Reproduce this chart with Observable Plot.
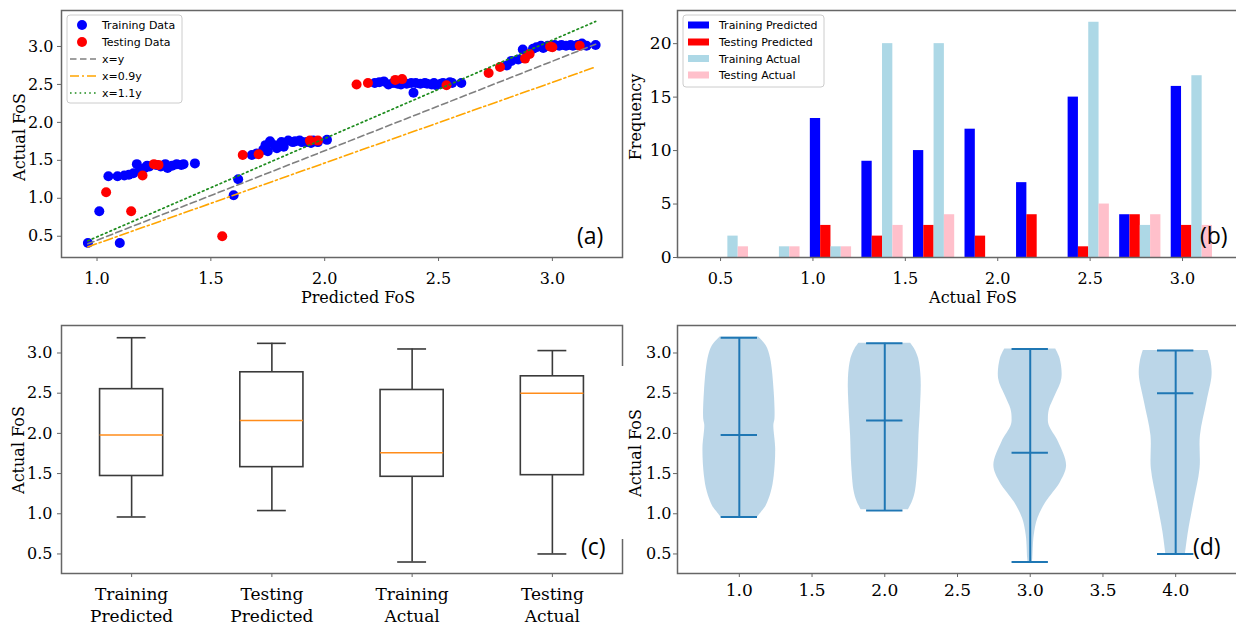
<!DOCTYPE html>
<html><head><meta charset="utf-8">
<script src="https://cdn.jsdelivr.net/npm/d3@7"></script>
<script src="https://cdn.jsdelivr.net/npm/@observablehq/plot@0.6"></script>
<style>
html,body{margin:0;padding:0;background:#fff;}
#wrap{position:relative;width:1236px;height:625px;overflow:hidden;background:#fff;}
</style></head><body><div id="wrap"></div>
<script>
// ---------- (a) scatter data ----------
const trainX = [0.96,1.10,1.01,1.60,1.62,
  1.05,1.09,1.12,1.14,1.16,1.175,1.19,1.21,1.22,1.23,
  1.26,1.28,1.30,1.31,1.33,1.35,1.37,1.38,1.43,
  1.68,1.70,1.73,1.74,1.75,1.76,1.78,1.79,
  1.81,1.82,1.84,1.86,1.87,1.89,1.90,1.92,1.94,1.95,1.97,2.01,
  2.22,2.24,2.26,2.28,2.30,2.32,2.335,
  2.36,2.38,2.39,2.40,2.42,2.44,2.45,2.47,2.48,2.49,2.51,2.52,2.55,2.56,2.60,
  2.80,2.82,2.85,2.87,
  2.915,2.93,2.95,2.96,2.98,3.00,3.01,3.03,3.04,3.06,3.08,3.09,3.11,3.13,3.15,3.19];
const trainY = [0.41,0.41,0.83,1.04,1.25,
  1.29,1.29,1.30,1.31,1.33,1.45,1.38,1.40,1.43,1.42,
  1.44,1.42,1.45,1.40,1.43,1.45,1.44,1.45,1.46,
  1.57,1.59,1.64,1.70,1.62,1.75,1.70,1.66,
  1.74,1.68,1.76,1.74,1.75,1.76,1.74,1.74,1.73,1.76,1.74,1.77,
  2.52,2.53,2.54,2.50,2.52,2.51,2.50,
  2.51,2.52,2.39,2.52,2.51,2.52,2.51,2.50,2.52,2.49,2.51,2.52,2.53,2.52,2.52,
  2.75,2.81,2.83,2.96,
  2.97,2.99,3.01,2.98,3.01,3.00,3.02,3.01,3.02,3.01,3.02,3.01,3.02,3.04,3.01,3.02];
const testX = [1.04,1.15,1.20,1.25,1.27,1.55,1.64,1.71,1.935,1.97,2.14,2.19,2.31,2.34,2.535,2.72,2.77,2.88,2.90,2.99,3.00,3.12];
const testY = [1.08,0.83,1.30,1.45,1.44,0.50,1.57,1.58,1.76,1.76,2.50,2.52,2.56,2.57,2.49,2.65,2.73,2.84,2.90,3.00,2.99,3.01];
// reference lines (endpoints)
const refX = [0.96, 3.19];
const refY_xy = [0.40, 3.03];
const refY_09 = [0.36, 2.73];
const refY_11 = [0.44, 3.33];
const ticksA_x = [1.0,1.5,2.0,2.5,3.0];
const ticksFoS = [0.5,1.0,1.5,2.0,2.5,3.0];

// ---------- (b) histogram data ----------
const binEdges = [0.40,0.679,0.958,1.237,1.516,1.795,2.074,2.353,2.632,2.911,3.19];
const histTrainPred = [0,0,13,9,10,12,7,15,4,16];
const histTestPred  = [0,0,3,2,3,2,4,1,4,3];
const histTrainAct  = [2,1,1,20,20,0,0,22,3,17];
const histTestAct   = [1,1,1,3,4,0,0,5,4,3];
const histNames = ["Training Predicted","Testing Predicted","Training Actual","Testing Actual"];
const histColors = ["#0000ff","#ff0000","#add8e6","#ffc0cb"];
const ticksB_x = [0.5,1.0,1.5,2.0,2.5,3.0];
const ticksB_y = [0,5,10,15,20];

// ---------- (c) box plot stats ----------
const boxLabels = ["Training\nPredicted","Testing\nPredicted","Training\nActual","Testing\nActual"];
const boxMin = [0.96,1.04,0.40,0.50];
const boxQ1  = [1.47,1.58,1.46,1.48];
const boxMed = [1.98,2.16,1.76,2.50];
const boxQ3  = [2.55,2.76,2.54,2.71];
const boxMax = [3.19,3.12,3.05,3.03];

// ---------- (d) violin profiles (relative width) ----------
const violinY1 = [0.96,1.03,1.10,1.27,1.47,1.81,2.10,2.18,2.51,2.93,3.09,3.20];
const violinW1 = [0.51,0.63,0.74,0.88,0.96,1.00,0.95,0.98,0.96,0.86,0.74,0.53];
const violinY2 = [1.05,1.15,1.27,1.60,1.97,2.30,2.68,2.93,3.05,3.12];
const violinW2 = [0.65,0.76,0.84,0.91,0.94,0.98,1.00,0.93,0.82,0.71];
const violinY3 = [0.40,0.44,0.73,0.94,1.14,1.39,1.60,1.89,2.10,2.20,2.30,2.47,2.68,2.93,3.05];
const violinW3 = [0.06,0.07,0.11,0.21,0.43,0.83,1.00,0.78,0.52,0.50,0.53,0.69,0.87,0.82,0.70];
const violinY4 = [0.50,0.77,1.14,1.56,1.97,2.39,2.72,2.90,3.03];
const violinW4 = [0.27,0.35,0.50,0.67,0.68,0.86,1.00,0.97,0.89];
const ticksD_x = [1.0,1.5,2.0,2.5,3.0,3.5,4.0];

// ---------- layout ----------
const W = 1244, H = 625;
const STYLE = "position:absolute;left:0;top:0;max-width:none;background:transparent;overflow:visible;font-family:'DejaVu Serif',serif;font-size:16px;color:#000;";
const FR = "#666";
const fmt1 = d3.format(".1f");
const wrap = document.getElementById("wrap");

// (a)
const train = trainX.map((x, i) => ({x, y: trainY[i]}));
const test = testX.map((x, i) => ({x, y: testY[i]}));
const lineXY = refX.map((x, i) => ({x, y: refY_xy[i]}));
const line09 = refX.map((x, i) => ({x, y: refY_09[i]}));
const line11 = refX.map((x, i) => ({x, y: refY_11[i]}));
const GREEN = "#1e8c1e";
wrap.appendChild(Plot.plot({
  width: W, height: H, marginLeft: 61, marginRight: W - 622, marginTop: 10, marginBottom: H - 257,
  style: STYLE,
  x: {domain: [0.844, 3.308]}, y: {domain: [0.22, 3.474]},
  marks: [
    Plot.dot(train, {x: "x", y: "y", r: 5, fill: "#0000ff"}),
    Plot.dot(test, {x: "x", y: "y", r: 5, fill: "#ff0000"}),
    Plot.line(lineXY, {x: "x", y: "y", stroke: "gray", strokeWidth: 1.6, strokeDasharray: "6.5,3.5"}),
    Plot.line(line09, {x: "x", y: "y", stroke: "#ffa500", strokeWidth: 1.6, strokeDasharray: "9,3,2,3"}),
    Plot.line(line11, {x: "x", y: "y", stroke: GREEN, strokeWidth: 1.7, strokeDasharray: "1.6,3.2"}),
    Plot.frame({stroke: FR, strokeWidth: 1.5}),
    Plot.axisX({ticks: ticksA_x, tickFormat: fmt1, tickSize: 4, tickPadding: 11, fontSize: 16, label: null, stroke: FR}),
    Plot.axisY({ticks: ticksFoS, tickFormat: fmt1, tickSize: 4, tickPadding: 4, fontSize: 16, label: null, stroke: FR})
  ]
}));

// (b)
const histCounts = [histTrainPred, histTestPred, histTrainAct, histTestAct];
const histRows = [];
histCounts.forEach((counts, k) => counts.forEach((c, b) => {
  const lo = binEdges[b], w = binEdges[b + 1] - lo;
  histRows.push({x1: lo + w * (0.1 + 0.2 * k), x2: lo + w * (0.3 + 0.2 * k), count: c, series: histNames[k]});
}));
wrap.appendChild(Plot.plot({
  width: W, height: H, marginLeft: 677, marginRight: W - 1243, marginTop: 10, marginBottom: H - 257,
  style: STYLE,
  x: {domain: [0.267, 3.33]}, y: {domain: [0, 23.1]},
  color: {domain: histNames, range: histColors},
  marks: [
    Plot.rect(histRows, {x1: "x1", x2: "x2", y1: 0, y2: "count", fill: "series"}),
    Plot.frame({stroke: FR, strokeWidth: 1.5}),
    Plot.axisX({ticks: ticksB_x, tickFormat: fmt1, tickSize: 4, tickPadding: 11, fontSize: 16, label: null, stroke: FR}),
    Plot.axisY({ticks: ticksB_y, tickFormat: d3.format("d"), tickSize: 4, tickPadding: 2, fontSize: 17, label: null, stroke: FR})
  ]
}));

// (c)
const boxRows = boxMin.map((m, i) => ({pos: i + 1, min: m, q1: boxQ1[i], med: boxMed[i], q3: boxQ3[i], max: boxMax[i]}));
const BX = "#3a3a3a";
wrap.appendChild(Plot.plot({
  width: W, height: H, marginLeft: 61, marginRight: W - 622, marginTop: 325, marginBottom: H - 573,
  style: STYLE,
  x: {domain: [0.5, 4.5]}, y: {domain: [0.257, 3.342]},
  marks: [
    Plot.ruleX(boxRows, {x: "pos", y1: "min", y2: "q1", stroke: BX, strokeWidth: 1.6}),
    Plot.ruleX(boxRows, {x: "pos", y1: "q3", y2: "max", stroke: BX, strokeWidth: 1.6}),
    Plot.ruleY(boxRows, {y: "min", x1: d => d.pos - 0.103, x2: d => d.pos + 0.103, stroke: BX, strokeWidth: 1.6}),
    Plot.ruleY(boxRows, {y: "max", x1: d => d.pos - 0.103, x2: d => d.pos + 0.103, stroke: BX, strokeWidth: 1.6}),
    Plot.rect(boxRows, {x1: d => d.pos - 0.225, x2: d => d.pos + 0.225, y1: "q1", y2: "q3", fill: "none", stroke: BX, strokeWidth: 1.6}),
    Plot.ruleY(boxRows, {y: "med", x1: d => d.pos - 0.225, x2: d => d.pos + 0.225, stroke: "#ff8c1a", strokeWidth: 1.6}),
    Plot.frame({stroke: FR, strokeWidth: 1.5}),
    Plot.axisX({ticks: [1, 2, 3, 4], tickFormat: d => boxLabels[d - 1], tickSize: 4, tickPadding: 7, fontSize: 17, lineHeight: 1.3, label: null, stroke: FR}),
    Plot.axisY({ticks: ticksFoS, tickFormat: fmt1, tickSize: 4, tickPadding: 5, fontSize: 16, label: null, stroke: FR})
  ]
}));

// (d)
const violinProfiles = [[violinY1, violinW1], [violinY2, violinW2], [violinY3, violinW3], [violinY4, violinW4]];
const violinRows = [];
violinProfiles.forEach(([ys, ws], i) => ys.forEach((y, j) => {
  violinRows.push({pos: i + 1, y, lo: i + 1 - 0.25 * ws[j], hi: i + 1 + 0.25 * ws[j]});
}));
const VC = "#1f77b4";
wrap.appendChild(Plot.plot({
  width: W, height: H, marginLeft: 677, marginRight: W - 1237, marginTop: 325, marginBottom: H - 573,
  style: STYLE,
  x: {domain: [0.575, 4.425]}, y: {domain: [0.257, 3.342]},
  marks: [
    Plot.areaX(violinRows, {y: "y", x1: "lo", x2: "hi", z: "pos", fill: VC, fillOpacity: 0.3, curve: "catmull-rom"}),
    Plot.ruleX(boxRows, {x: "pos", y1: "min", y2: "max", stroke: VC, strokeWidth: 2}),
    Plot.ruleY(boxRows, {y: "min", x1: d => d.pos - 0.125, x2: d => d.pos + 0.125, stroke: VC, strokeWidth: 2}),
    Plot.ruleY(boxRows, {y: "max", x1: d => d.pos - 0.125, x2: d => d.pos + 0.125, stroke: VC, strokeWidth: 2}),
    Plot.ruleY(boxRows, {y: "med", x1: d => d.pos - 0.125, x2: d => d.pos + 0.125, stroke: VC, strokeWidth: 2}),
    Plot.frame({stroke: FR, strokeWidth: 1.5}),
    Plot.axisX({ticks: ticksD_x, tickFormat: fmt1, tickSize: 4, tickPadding: 6, fontSize: 17, label: null, stroke: FR}),
    Plot.axisY({ticks: ticksFoS, tickFormat: fmt1, tickSize: 4, tickPadding: 2, fontSize: 16, label: null, stroke: FR})
  ]
}));

// ---------- overlay: axis titles, legends, panel tags ----------
const ov = d3.select(wrap).append("svg").attr("width", 1236).attr("height", 625)
  .style("position", "absolute").style("left", 0).style("top", 0);
// hidden part of panel (c) right spine
ov.append("rect").attr("x", 619).attr("y", 366).attr("width", 7).attr("height", 173).attr("fill", "#fff");
function txt(x, y, s, o = {}) {
  const t = ov.append("text").attr("x", o.rot ? 0 : x).attr("y", o.rot ? 0 : y).text(s)
    .attr("font-family", o.family || "'DejaVu Serif', serif").attr("font-size", o.size || 16)
    .attr("text-anchor", o.anchor || "middle").attr("fill", "#000");
  if (o.rot) t.attr("transform", `translate(${x},${y}) rotate(-90)`);
  return t;
}
txt(358, 303, "Predicted FoS");
txt(25, 137, "Actual FoS", {rot: true});
txt(973, 303, "Actual FoS");
txt(641, 117, "Frequency", {rot: true});
txt(24, 450, "Actual FoS", {rot: true});
txt(641, 453, "Actual FoS", {rot: true});
const tagFont = "'Open Sans', sans-serif";
txt(577, 244, "(a)", {family: tagFont, size: 23, anchor: "start"});
txt(1200, 244, "(b)", {family: tagFont, size: 23, anchor: "start"});
txt(581, 555, "(c)", {family: tagFont, size: 23, anchor: "start"});
txt(1193, 555, "(d)", {family: tagFont, size: 23, anchor: "start"});

// legend (a)
const legFont = "'DejaVu Sans', sans-serif";
ov.append("rect").attr("x", 67).attr("y", 15).attr("width", 115).attr("height", 88).attr("rx", 3)
  .attr("fill", "#fff").attr("fill-opacity", 0.8).attr("stroke", "#ccc");
const legA = [
  {label: "Training Data", type: "dot", color: "#0000ff"},
  {label: "Testing Data", type: "dot", color: "#ff0000"},
  {label: "x=y", type: "line", color: "gray", dash: "6.5,3.5", w: 1.6},
  {label: "x=0.9y", type: "line", color: "#ffa500", dash: "9,3,2,3", w: 1.6},
  {label: "x=1.1y", type: "line", color: GREEN, dash: "1.6,3.2", w: 1.7}
];
const legAy = [25, 42, 59, 76, 93];
legA.forEach((e, i) => {
  const cy = legAy[i];
  if (e.type === "dot") ov.append("circle").attr("cx", 82).attr("cy", cy).attr("r", 5).attr("fill", e.color);
  else ov.append("line").attr("x1", 70).attr("x2", 96).attr("y1", cy).attr("y2", cy)
    .attr("stroke", e.color).attr("stroke-width", e.w).attr("stroke-dasharray", e.dash);
  txt(102, cy + 4, e.label, {family: legFont, size: 11, anchor: "start"});
});
// legend (b)
ov.append("rect").attr("x", 683).attr("y", 15).attr("width", 141).attr("height", 72).attr("rx", 3)
  .attr("fill", "#fff").attr("fill-opacity", 0.8).attr("stroke", "#ccc");
const legBy = [25, 42, 58.5, 75];
histNames.forEach((n, i) => {
  ov.append("rect").attr("x", 688).attr("y", legBy[i] - 3.5).attr("width", 21).attr("height", 7).attr("fill", histColors[i]);
  txt(719, legBy[i] + 4, n, {family: legFont, size: 11, anchor: "start"});
});
</script></body></html>
